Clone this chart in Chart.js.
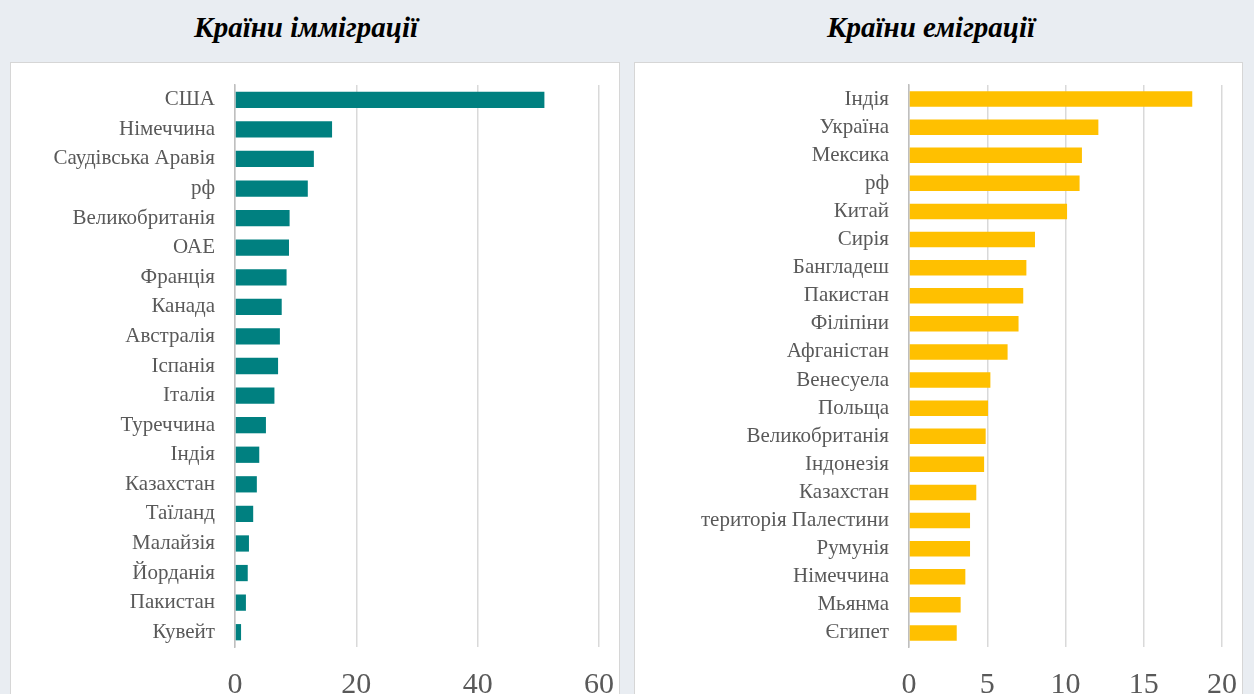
<!DOCTYPE html>
<html lang="uk">
<head>
<meta charset="utf-8">
<script src="https://cdn.jsdelivr.net/npm/chart.js"></script>
<style>
  body { margin: 0; width: 1254px; height: 694px; overflow: hidden; position: relative;
         background: #e9edf2; font-family: "Liberation Serif", serif; }
  .title { position: absolute; top: 11px; width: 400px; text-align: center;
           font: italic bold 29px "Liberation Serif", serif; color: #000; }
  .box { position: absolute; top: 62px; height: 660px; background: #fff; border: 1px solid #d6d6d6; }
  canvas { position: absolute; left: 0; top: 0; }
</style>
</head>
<body>
<div class="title" style="left:106px">Країни імміграції</div>
<div class="title" style="left:731px">Країни еміграції</div>
<div class="box" style="left:10px; width:608px"><canvas id="chart-immigration" width="608" height="640"></canvas></div>
<div class="box" style="left:634px; width:607px"><canvas id="chart-emigration" width="607" height="640"></canvas></div>
<script>
const immigrationCountries = ["США", "Німеччина", "Саудівська Аравія", "рф", "Великобританія", "ОАЕ",
  "Франція", "Канада", "Австралія", "Іспанія", "Італія", "Туреччина", "Індія", "Казахстан",
  "Таїланд", "Малайзія", "Йорданія", "Пакистан", "Кувейт"];
const immigrationValues = [51, 16, 13, 12, 9, 8.9, 8.5, 7.7, 7.4, 7.1, 6.5, 5.1, 4, 3.6, 3, 2.3, 2.1, 1.8, 1];
const immigrationMax = 60;
const immigrationStep = 20;

const emigrationCountries = ["Індія", "Україна", "Мексика", "рф", "Китай", "Сирія", "Бангладеш",
  "Пакистан", "Філіпіни", "Афганістан", "Венесуела", "Польща", "Великобританія", "Індонезія",
  "Казахстан", "територія Палестини", "Румунія", "Німеччина", "Мьянма", "Єгипет"];
const emigrationValues = [18.1, 12.1, 11.05, 10.9, 10.1, 8.05, 7.5, 7.3, 7.0, 6.3, 5.2, 5.05, 4.9,
  4.8, 4.3, 3.9, 3.9, 3.6, 3.3, 3.05];
const emigrationMax = 20;
const emigrationStep = 5;

function makeChart(id, labels, values, color, max, step, axisWidth) {
  const ctx = document.getElementById(id);
  return new Chart(ctx, {
    type: "bar",
    data: {
      labels: labels,
      datasets: [{
        data: values,
        backgroundColor: color,
        borderWidth: 0,
        categoryPercentage: 1,
        barPercentage: 0.55,
      }],
    },
    options: {
      indexAxis: "y",
      responsive: false,
      animation: false,
      layout: { padding: { top: 22, right: 20, left: 0, bottom: 0 } },
      plugins: { legend: { display: false }, tooltip: { enabled: false } },
      scales: {
        x: {
          min: 0,
          max: max,
          ticks: { stepSize: step, color: "#595959", padding: 20,
                   font: { family: "Liberation Serif", size: 30 } },
          grid: { color: "#d9d9d9", lineWidth: 1.5, drawTicks: false },
          border: { display: false },
          afterFit: (s) => {
            s.height = 56;
            s.paddingLeft = 0;
            s.paddingRight = 0;
          },
        },
        y: {
          ticks: { color: "#595959", padding: 20, autoSkip: false,
                   font: { family: "Liberation Serif", size: 21 } },
          grid: { display: false, drawTicks: false },
          border: { display: true, color: "#bfbfbf", width: 1.5 },
          afterFit: (s) => {
            s.width = axisWidth;
            s.paddingTop = 0;
            s.paddingBottom = 0;
          },
        },
      },
    },
  });
}

makeChart("chart-immigration", immigrationCountries, immigrationValues, "#008080",
  immigrationMax, immigrationStep, 224);
makeChart("chart-emigration", emigrationCountries, emigrationValues, "#ffc000",
  emigrationMax, emigrationStep, 274);
</script>
</body>
</html>
